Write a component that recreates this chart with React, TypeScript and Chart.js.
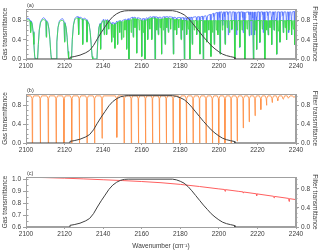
import React, { useEffect, useRef } from "react";
import { Chart, registerables } from "chart.js";
Chart.register(...registerables);

// ---------- axis ticks ----------
const xTicks = [2100, 2120, 2140, 2160, 2180, 2200, 2220, 2240];
const transTicks = [0.0, 0.2, 0.4, 0.6, 0.8, 1.0];
const gasTicksC = [0.6, 0.7, 0.8, 0.9, 1.0];

// ---------- filter transmittance (wavenumber, T) ----------
const filterCurve: number[][] = [
  [2100, 0], [2122.8, 0], [2122.8, 0.035], [2125, 0.05], [2128, 0.08], [2131, 0.13],
  [2133, 0.18], [2135, 0.28], [2137, 0.42], [2139, 0.55], [2141, 0.67], [2143, 0.79],
  [2145, 0.88], [2147, 0.94], [2149, 0.98], [2151, 1.0], [2153, 1.005], [2176, 1.005],
  [2178, 0.99], [2180, 0.96], [2182, 0.92], [2184, 0.85], [2186, 0.76], [2188, 0.66],
  [2190, 0.56], [2192, 0.46], [2194, 0.37], [2196, 0.28], [2198, 0.21], [2200, 0.15],
  [2202, 0.1], [2204, 0.07], [2206, 0.05], [2208.3, 0.03], [2208.3, 0], [2240, 0],
];

// ---------- panel (a): green gas transmittance ----------
const greenArch: number[][] = [
  [2100, 0.78], [2100.8, 0.82], [2101.6, 0.81], [2102.1, 0.78], [2102.4, 0.55], [2102.7, 0.77],
  [2103.2, 0.72], [2103.7, 0.55], [2104.1, 0.3], [2104.5, 0.05], [2104.8, 0], [2106.0, 0],
  [2106.4, 0.3], [2106.9, 0.6], [2107.5, 0.75], [2108.3, 0.81], [2109.0, 0.82], [2109.8, 0.81],
  [2110.3, 0.79], [2110.5, 0.45], [2110.7, 0.78], [2111.3, 0.74], [2111.9, 0.62], [2112.4, 0.4],
  [2112.9, 0.1], [2113.2, 0], [2115.6, 0], [2116.0, 0.35], [2116.6, 0.65], [2117.3, 0.77],
  [2118.2, 0.8], [2119.0, 0.8], [2119.7, 0.77], [2120.0, 0.35], [2120.2, 0.74], [2120.8, 0.65],
  [2121.3, 0.45], [2121.8, 0.15], [2122.1, 0], [2123.6, 0], [2124.0, 0.4], [2124.6, 0.7],
  [2125.3, 0.82], [2126.2, 0.85], [2127.0, 0.85], [2127.3, 0.5], [2127.5, 0.84], [2128.5, 0.84],
  [2129.2, 0.82], [2129.4, 0.3], [2129.6, 0.81], [2130.5, 0.82], [2131.3, 0.8], [2131.6, 0.35],
  [2131.9, 0.78], [2132.7, 0.72], [2133.3, 0.55], [2133.8, 0.3], [2134.3, 0.05], [2134.6, 0],
  [2136.8, 0], [2137.2, 0.35], [2137.8, 0.65], [2138.4, 0.72], [2138.7, 0.2], [2138.9, 0.7],
  [2139.6, 0.78], [2140.3, 0.8], [2140.6, 0.5], [2140.8, 0.78], [2141.3, 0.8],
];
// [position, minimum, local continuum]
const greenLines: number[][] = [
  [2141.8, 0.5, 0.8], [2142.9, 0.62, 0.78], [2144.4, 0.35, 0.72], [2145.2, 0.45, 0.7],
  [2146.1, 0.22, 0.72], [2147.5, 0.3, 0.76], [2148.6, 0.55, 0.78], [2149.5, 0.4, 0.76],
  [2150.5, 0.45, 0.78], [2151.3, 0.6, 0.8], [2152.2, 0.2, 0.8], [2153.4, 0.0, 0.8],
  [2154.5, 0.55, 0.82], [2155.6, 0.45, 0.84], [2156.5, 0.65, 0.84], [2157.4, 0.12, 0.83],
  [2158.7, 0.6, 0.82], [2160.0, 0.05, 0.8], [2160.8, 0.55, 0.8], [2161.7, 0.0, 0.8],
  [2163.1, 0.4, 0.82], [2164.2, 0.62, 0.84], [2165.2, 0.4, 0.85], [2166.9, 0.0, 0.85],
  [2167.8, 0.6, 0.84], [2168.6, 0.5, 0.84], [2169.5, 0.65, 0.83], [2170.3, 0.1, 0.83],
  [2171.2, 0.6, 0.84], [2172.1, 0.3, 0.85], [2173.0, 0.65, 0.85], [2173.8, 0.55, 0.85],
  [2175.0, 0.62, 0.84], [2176.4, 0.1, 0.83], [2177.2, 0.6, 0.82], [2178.1, 0.5, 0.82],
  [2179.2, 0.65, 0.82], [2180.4, 0.4, 0.82], [2181.2, 0.6, 0.81], [2182.1, 0.0, 0.8],
  [2183.3, 0.5, 0.8], [2184.1, 0.62, 0.8], [2185.0, 0.0, 0.8], [2186.2, 0.3, 0.8],
  [2187.2, 0.6, 0.8], [2188.5, 0.5, 0.8], [2189.3, 0.62, 0.8], [2190.2, 0.1, 0.8],
  [2191.9, 0.0, 0.8], [2192.8, 0.55, 0.8], [2193.7, 0.35, 0.8], [2194.8, 0.6, 0.8],
  [2195.9, 0.05, 0.8], [2196.7, 0.55, 0.8], [2197.6, 0.3, 0.8], [2198.6, 0.6, 0.8],
  [2199.5, 0.5, 0.8], [2200.6, 0.1, 0.8], [2201.8, 0.6, 0.8], [2203.2, 0.3, 0.8],
  [2204.3, 0.65, 0.8], [2205.5, 0.55, 0.8], [2206.8, 0.62, 0.8], [2208.3, 0.0, 0.8],
  [2209.5, 0.6, 0.8], [2210.9, 0.25, 0.8], [2212.0, 0.6, 0.8], [2213.5, 0.0, 0.8],
  [2214.6, 0.62, 0.8], [2215.8, 0.5, 0.8], [2217.9, 0.0, 0.8], [2218.8, 0.6, 0.8],
  [2219.6, 0.2, 0.8], [2221.3, 0.35, 0.8], [2222.5, 0.62, 0.8], [2223.9, 0.0, 0.8],
  [2224.8, 0.6, 0.8], [2225.6, 0.5, 0.8], [2226.5, 0.65, 0.8], [2227.4, 0.3, 0.8],
  [2228.6, 0.6, 0.8], [2230.0, 0.1, 0.8], [2230.8, 0.58, 0.8], [2231.7, 0.35, 0.8],
  [2233.4, 0.55, 0.8], [2234.3, 0.65, 0.8], [2235.1, 0.4, 0.8], [2236.3, 0.6, 0.8],
  [2237.7, 0.5, 0.8], [2238.6, 0.62, 0.8], [2239.4, 0.3, 0.8], [2240, 0.8, 0.8],
];

// ---------- panel (a): blue gas transmittance ----------
const blueArch: number[][] = [
  [2100, 0.8], [2100.8, 0.85], [2101.6, 0.84], [2102.1, 0.8], [2102.4, 0.58], [2102.7, 0.79],
  [2103.2, 0.75], [2103.7, 0.57], [2104.1, 0.31], [2104.5, 0.06], [2104.8, 0], [2106.0, 0],
  [2106.4, 0.31], [2106.9, 0.61], [2107.5, 0.77], [2108.3, 0.83], [2109.0, 0.86], [2109.8, 0.84],
  [2110.3, 0.81], [2110.5, 0.47], [2110.7, 0.8], [2111.3, 0.76], [2111.9, 0.63], [2112.4, 0.41],
  [2112.9, 0.1], [2113.2, 0], [2115.6, 0], [2116.0, 0.36], [2116.6, 0.66], [2117.3, 0.79],
  [2118.2, 0.83], [2119.0, 0.84], [2119.7, 0.79], [2120.0, 0.37], [2120.2, 0.76], [2120.8, 0.66],
  [2121.3, 0.46], [2121.8, 0.16], [2122.1, 0], [2123.6, 0], [2124.0, 0.41], [2124.6, 0.71],
  [2125.3, 0.84], [2126.2, 0.88], [2127.0, 0.88], [2127.3, 0.52], [2127.5, 0.86], [2128.5, 0.87],
  [2129.2, 0.84], [2129.4, 0.32], [2129.6, 0.83], [2130.5, 0.85], [2131.3, 0.82], [2131.6, 0.37],
  [2131.9, 0.8], [2132.7, 0.73], [2133.3, 0.56], [2133.8, 0.31], [2134.3, 0.05], [2134.6, 0],
  [2136.8, 0], [2137.2, 0.36], [2137.8, 0.66], [2138.4, 0.74], [2138.7, 0.22], [2138.9, 0.72],
  [2139.6, 0.8], [2140.3, 0.83], [2140.6, 0.52], [2140.8, 0.8], [2141.3, 0.82],
];
// [position, minimum, local continuum, wing level]
const blueLines: number[][] = [
  [2141.8, 0.52, 0.82, 0.81], [2144.4, 0.37, 0.76, 0.74], [2146.1, 0.24, 0.75, 0.73],
  [2147.5, 0.32, 0.79, 0.77], [2149.5, 0.42, 0.8, 0.78], [2152.2, 0.22, 0.83, 0.81],
  [2153.4, 0.0, 0.84, 0.8], [2155.6, 0.47, 0.87, 0.85], [2157.4, 0.13, 0.86, 0.83],
  [2160.0, 0.06, 0.84, 0.81], [2161.7, 0.0, 0.84, 0.8], [2163.1, 0.42, 0.86, 0.84],
  [2165.2, 0.42, 0.88, 0.86], [2166.9, 0.0, 0.88, 0.83], [2168.6, 0.52, 0.87, 0.85],
  [2170.3, 0.11, 0.87, 0.83], [2172.1, 0.32, 0.88, 0.86], [2173.8, 0.57, 0.88, 0.87],
  [2176.4, 0.11, 0.87, 0.83], [2178.1, 0.52, 0.86, 0.85], [2180.4, 0.42, 0.86, 0.84],
  [2182.1, 0.0, 0.86, 0.82], [2183.3, 0.52, 0.86, 0.85], [2185.0, 0.0, 0.87, 0.82],
  [2186.2, 0.32, 0.87, 0.85], [2188.5, 0.52, 0.88, 0.86], [2190.2, 0.11, 0.88, 0.83],
  [2191.9, 0.0, 0.89, 0.82], [2193.7, 0.37, 0.9, 0.86], [2195.9, 0.06, 0.93, 0.85],
  [2197.6, 0.32, 0.95, 0.88], [2199.5, 0.55, 0.97, 0.92], [2200.6, 0.11, 0.98, 0.86],
  [2202.0, 0.7, 0.98, 0.94], [2203.2, 0.32, 0.98, 0.88], [2204.9, 0.5, 0.98, 0.92],
  [2206.6, 0.6, 0.98, 0.86], [2208.3, 0.0, 0.98, 0.85], [2209.2, 0.5, 0.97, 0.92],
  [2210.9, 0.24, 0.98, 0.88], [2212.6, 0.55, 0.98, 0.86], [2213.5, 0.0, 0.97, 0.85],
  [2215.8, 0.48, 0.98, 0.92], [2216.8, 0.5, 0.98, 0.92], [2217.9, 0.0, 0.98, 0.85],
  [2218.7, 0.5, 0.97, 0.9], [2219.6, 0.2, 0.98, 0.88], [2221.3, 0.34, 0.98, 0.88],
  [2223.0, 0.55, 0.98, 0.92], [2223.9, 0.0, 0.98, 0.85], [2225.6, 0.5, 0.98, 0.9],
  [2227.4, 0.3, 0.98, 0.88], [2228.6, 0.6, 0.98, 0.92], [2230.0, 0.1, 0.98, 0.85],
  [2231.7, 0.35, 0.98, 0.88], [2233.4, 0.55, 0.98, 0.9], [2235.1, 0.4, 0.98, 0.86],
  [2236.3, 0.55, 0.98, 0.92], [2237.7, 0.5, 0.98, 0.88], [2239.4, 0.3, 0.99, 0.86],
];

// ---------- panel (b): CO lines [position, minimum] ----------
const coLines: number[][] = [
  [2103.27, 0], [2107.42, 0], [2111.54, 0], [2115.63, 0], [2119.68, 0], [2123.70, 0],
  [2127.68, 0], [2131.63, 0], [2135.55, 0], [2139.43, 0.1], [2147.08, 0.12], [2150.86, 0],
  [2154.60, 0], [2158.30, 0], [2161.97, 0], [2165.60, 0], [2169.20, 0], [2172.76, 0],
  [2176.28, 0], [2179.77, 0], [2183.22, 0], [2186.64, 0], [2190.02, 0], [2193.36, 0],
  [2196.66, 0], [2199.93, 0], [2203.16, 0], [2206.35, 0], [2209.51, 0.04], [2212.63, 0.32],
  [2215.72, 0.45], [2218.76, 0.58], [2221.76, 0.71], [2224.72, 0.8], [2227.65, 0.86],
  [2230.54, 0.9], [2233.38, 0.93], [2236.19, 0.95], [2238.96, 0.97],
];

// ---------- panel (c): red gas transmittance ----------
const redCurve: number[][] = [
  [2100, 1.018], [2110, 1.015], [2120, 1.01], [2130, 1.004], [2140, 0.997], [2150, 0.99],
  [2160, 0.982], [2170, 0.972], [2180, 0.958], [2190, 0.94], [2200, 0.92], [2203.0, 0.915],
  [2203.2, 0.9], [2203.4, 0.914], [2210, 0.9], [2212.5, 0.895], [2212.6, 0.886], [2212.8, 0.894],
  [2219.4, 0.879], [2219.6, 0.862], [2219.8, 0.878], [2228.4, 0.858], [2228.6, 0.845],
  [2228.8, 0.857], [2236.2, 0.84], [2236.4, 0.815], [2236.6, 0.838], [2240, 0.83],
];

// ---------- helpers ----------
const FONT = "'Liberation Sans', Arial, sans-serif";
const AXIS = "#a0a0a0";
const TXT = "#3a3a3a";

type P = { x: number; y: number };
const pairs = (a: number[][]): P[] => a.map(([x, y]) => ({ x, y }));
const sortX = (a: P[]) => a.sort((p, q) => p.x - q.x);

function greenPoints(): P[] {
  const pts = pairs(greenArch);
  greenLines.forEach(([p, m, t]) => {
    pts.push({ x: p - 0.25, y: t }, { x: p, y: m }, { x: p + 0.25, y: t });
  });
  return sortX(pts);
}
function bluePoints(): P[] {
  const pts = pairs(blueArch);
  blueLines.forEach(([p, m, t, w]) => {
    pts.push({ x: p - 0.42, y: t }, { x: p - 0.2, y: w }, { x: p, y: m }, { x: p + 0.2, y: w }, { x: p + 0.42, y: t });
  });
  return sortX(pts);
}
function orangePoints(): P[] {
  const pts: P[] = [{ x: 2100, y: 1 }, { x: 2240, y: 1 }];
  coLines.forEach(([p, m]) => {
    const w = Math.max(m, 0.94);
    pts.push({ x: p - 0.7, y: 1 }, { x: p - 0.16, y: w }, { x: p, y: m }, { x: p + 0.16, y: w }, { x: p + 0.7, y: 1 });
  });
  return sortX(pts);
}

const fixTicks = (vals: number[]) => (s: any) => {
  s.ticks = vals.map((v) => ({ value: v }));
};

function xScale(withTitle: boolean) {
  return {
    type: "linear",
    min: 2100,
    max: 2240,
    afterBuildTicks: fixTicks(xTicks),
    afterFit: (s: any) => { s.height = 25; },
    grid: { drawOnChartArea: false, tickLength: 2, color: AXIS },
    border: { color: AXIS },
    ticks: { font: { family: FONT, size: 6.5 }, color: TXT, padding: 1, maxRotation: 0, autoSkip: false, callback: (v: any) => String(v) },
    title: withTitle
      ? { display: true, text: "Wavenumber (cm\u207B\u00B9)", font: { family: FONT, size: 6.5 }, color: TXT, padding: { top: 0, bottom: 2 } }
      : { display: false },
  };
}
function yScale(pos: "left" | "right", min: number, max: number, ticks: number[], title: string, width: number) {
  return {
    type: "linear",
    position: pos,
    min,
    max,
    afterBuildTicks: fixTicks(ticks),
    afterFit: (s: any) => { s.width = width; },
    grid: { drawOnChartArea: false, tickLength: 3, color: AXIS },
    border: { color: AXIS },
    ticks: { font: { family: FONT, size: 6.5 }, color: TXT, padding: 2, callback: (v: any) => Number(v).toFixed(1) },
    title: { display: true, text: title, font: { family: FONT, size: 6.5 }, color: TXT, padding: { top: 1, bottom: 1 } },
  };
}

// frame, panel letter and small minor ticks on the value axes
const framePlugin = (label: string, leftMinor: number, rightMinor: number) => ({
  id: "frame" + label,
  afterDraw(chart: any) {
    const { ctx, chartArea: a, scales } = chart;
    ctx.save();
    ctx.strokeStyle = AXIS;
    ctx.lineWidth = 1;
    ctx.strokeRect(Math.round(a.left) + 0.5, Math.round(a.top) + 0.5, Math.round(a.right - a.left) - 1, Math.round(a.bottom - a.top));
    const minor = (sc: any, step: number, x0: number, dir: number) => {
      ctx.beginPath();
      for (let v = sc.min; v <= sc.max + 1e-9; v += step) {
        const py = Math.round(sc.getPixelForValue(v)) + 0.5;
        ctx.moveTo(x0, py);
        ctx.lineTo(x0 + dir * 2, py);
      }
      ctx.stroke();
    };
    minor(scales.y, leftMinor, Math.round(a.left) + 0.5, 1);
    minor(scales.y2, rightMinor, Math.round(a.right) - 0.5, 1);
    ctx.fillStyle = TXT;
    ctx.font = `5.5px ${FONT}`;
    ctx.textBaseline = "middle";
    ctx.fillText(label, a.left + 1, a.top - 4);
    ctx.restore();
  },
});

function lineDs(data: P[], color: string, axis: string, width = 1) {
  return { type: "line", data, borderColor: color, borderWidth: width, pointRadius: 0, yAxisID: axis, fill: false, tension: 0 };
}

// Note: in Chart.js the first dataset is painted last (on top).
function makeConfig(panel: "a" | "b" | "c"): any {
  const filterDs = lineDs(pairs(filterCurve), "#404040", "y2", 1);
  let datasets: any[] = [];
  let y: any;
  let y2: any;
  let top = 9;
  let lm = 0.1;
  if (panel === "a") {
    datasets = [
      filterDs,
      lineDs(greenPoints(), "rgba(55,222,65,0.8)", "y", 1),
      lineDs(bluePoints(), "rgba(80,110,255,0.85)", "y", 0.9),
    ];
    y = yScale("left", 0, 1.04, transTicks, "Gas transmittance", 26);
    y2 = yScale("right", 0, 1.04, transTicks, "Filter transmittance", 24);
  } else if (panel === "b") {
    top = 10;
    datasets = [filterDs, lineDs(orangePoints(), "rgba(255,145,70,0.85)", "y", 1)];
    y = yScale("left", 0, 1.04, transTicks, "Gas transmittance", 26);
    y2 = yScale("right", 0, 1.04, transTicks, "Filter transmittance", 24);
  } else {
    lm = 0.05;
    datasets = [filterDs, lineDs(pairs(redCurve), "rgb(255,95,95)", "y", 1)];
    y = yScale("left", 0.6, 1.02, gasTicksC, "Gas transmittance", 26);
    y2 = yScale("right", 0, 1.05, transTicks, "Filter transmittance", 24);
  }
  return {
    type: "line",
    data: { datasets },
    options: {
      animation: false,
      responsive: false,
      events: [],
      layout: { padding: { top, left: 0, right: 0, bottom: 0 } },
      plugins: { legend: { display: false }, tooltip: { enabled: false } },
      scales: { x: xScale(panel === "c"), y, y2 },
    },
    plugins: [framePlugin(`(${panel})`, lm, 0.1)],
  };
}

function Panel({ panel }: { panel: "a" | "b" | "c" }) {
  const ref = useRef<HTMLCanvasElement>(null);
  useEffect(() => {
    if (!ref.current) return;
    const chart = new Chart(ref.current, makeConfig(panel));
    return () => chart.destroy();
  }, [panel]);
  return <canvas ref={ref} width={320} height={84} style={{ display: "block", width: 320, height: 84 }} />;
}

export default function App() {
  return (
    <div style={{ position: "absolute", left: 0, top: 0, width: 320, height: 252, background: "#fff" }}>
      <Panel panel="a" />
      <Panel panel="b" />
      <Panel panel="c" />
    </div>
  );
}
